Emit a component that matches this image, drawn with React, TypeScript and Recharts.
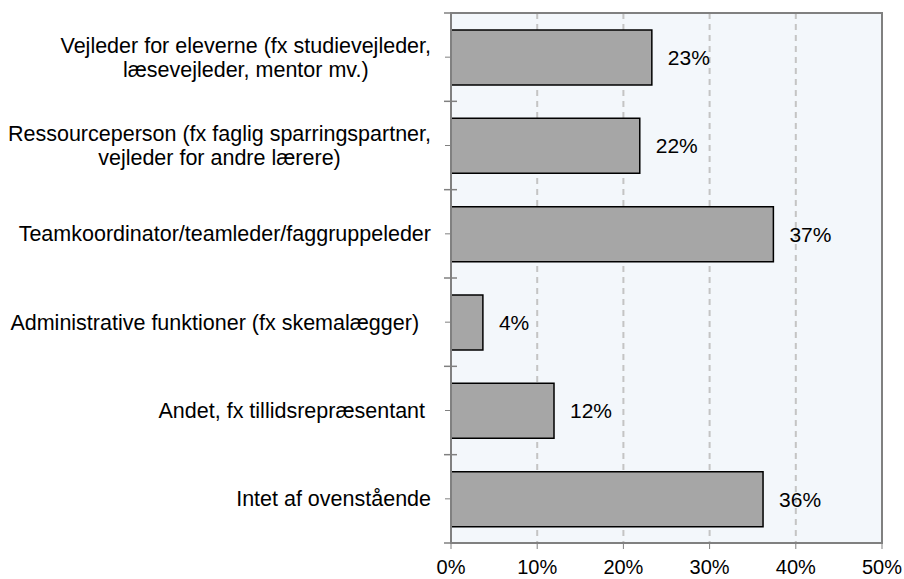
import {
  Bar,
  BarChart,
  CartesianGrid,
  LabelList,
  ReferenceArea,
  XAxis,
  YAxis,
} from 'recharts';

const categories = [
  'Vejleder for eleverne (fx studievejleder,\nlæsevejleder, mentor mv.)',
  'Ressourceperson (fx faglig sparringspartner,\nvejleder for andre lærere)',
  'Teamkoordinator/teamleder/faggruppeleder',
  'Administrative funktioner (fx skemalægger)  ',
  'Andet, fx tillidsrepræsentant ',
  'Intet af ovenstående',
];
const shares = [23.3, 21.9, 37.4, 3.7, 11.95, 36.2];
const xTicks = [0, 10, 20, 30, 40, 50];

const data = categories.map((name, i) => ({ name, value: shares[i] }));

const FONT = '"Liberation Sans", Arial, sans-serif';
const FONT_SIZE = 21;
const CAT_FONT_SIZE = 21.5;
const GRAY = '#808080';
const PLOT_H = 530;
const BAND = PLOT_H / categories.length;
const TICK_GAP = 20; // tickSize + tickMargin on the category axis

let ctx: CanvasRenderingContext2D | null = null;
const measure = (s: string) => {
  if (!ctx) {
    ctx = document.createElement('canvas').getContext('2d');
    if (ctx) ctx.font = `${CAT_FONT_SIZE}px "Liberation Sans", Arial`;
  }
  return ctx ? ctx.measureText(s).width : s.length * 10;
};

const CategoryTick = (props: any) => {
  const { x, y, payload, index } = props;
  const lines: string[] = String(payload.value).split('\n');
  const lineHeight = 24;
  const ax = x + TICK_GAP;
  // boundary ticks between categories, crossing the axis
  const bounds = index === 0 ? [y - BAND / 2, y + BAND / 2] : [y + BAND / 2];
  const marks = bounds.map((by, i) => (
    <line key={i} x1={ax - 7} x2={ax + 6} y1={by} y2={by} stroke={GRAY} strokeWidth={1.5} />
  ));
  if (lines.length === 1) {
    return (
      <g>
        {marks}
        <text
          x={x}
          y={y}
          dy="0.355em"
          textAnchor="end"
          fill="#000"
          fontSize={CAT_FONT_SIZE}
          fontFamily={FONT}
          style={{ whiteSpace: 'pre' }}
        >
          {lines[0]}
        </text>
      </g>
    );
  }
  const w = Math.max(...lines.map(measure));
  const cx = x - w / 2;
  const first = y - ((lines.length - 1) * lineHeight) / 2;
  return (
    <g>
      {marks}
      <text
        x={cx}
        y={first}
        textAnchor="middle"
        fill="#000"
        fontSize={CAT_FONT_SIZE}
        fontFamily={FONT}
      >
        {lines.map((l, i) => (
          <tspan key={i} x={cx} y={first + i * lineHeight} dy="0.355em">
            {l}
          </tspan>
        ))}
      </text>
    </g>
  );
};

export default function App() {
  return (
    <div style={{ width: 904, height: 579 }}>
      <style>{'body { margin: 0; overflow: hidden; }'}</style>
      <BarChart
        width={904}
        height={579}
        data={data}
        layout="vertical"
        margin={{ top: 13, right: 22, bottom: 0, left: 0 }}
        barSize={55}
      >
        <CartesianGrid
          horizontal={false}
          stroke="#C4C4C4"
          strokeWidth={2}
          strokeDasharray="6 5"
          fill="#F3F7FB"
        />
        <ReferenceArea
          x1={0}
          x2={50}
          y1={categories[0]}
          y2={categories[categories.length - 1]}
          fill="none"
          fillOpacity={0}
          stroke={GRAY}
          strokeWidth={2}
          ifOverflow="visible"
        />
        <XAxis
          type="number"
          domain={[0, 50]}
          ticks={xTicks}
          interval={0}
          tickFormatter={(v: number) => `${v}%`}
          axisLine={{ stroke: GRAY, strokeWidth: 2 }}
          tickLine={{ stroke: GRAY }}
          tickSize={6}
          tickMargin={11}
          height={36}
          tick={{ fill: '#000', fontSize: 20, fontFamily: FONT }}
        />
        <YAxis
          type="category"
          dataKey="name"
          width={451}
          interval={0}
          axisLine={{ stroke: GRAY, strokeWidth: 2 }}
          tickLine={{ stroke: GRAY }}
          tickSize={6}
          tickMargin={14}
          tick={<CategoryTick />}
        />
        <Bar
          dataKey="value"
          fill="#A6A6A6"
          stroke="#000"
          strokeWidth={1.5}
          isAnimationActive={false}
        >
          <LabelList
            dataKey="value"
            position="right"
            offset={16}
            formatter={(v: any) => `${Math.round(Number(v))}%`}
            fill="#000"
            fontSize={FONT_SIZE}
            fontFamily={FONT}
          />
        </Bar>
      </BarChart>
    </div>
  );
}
